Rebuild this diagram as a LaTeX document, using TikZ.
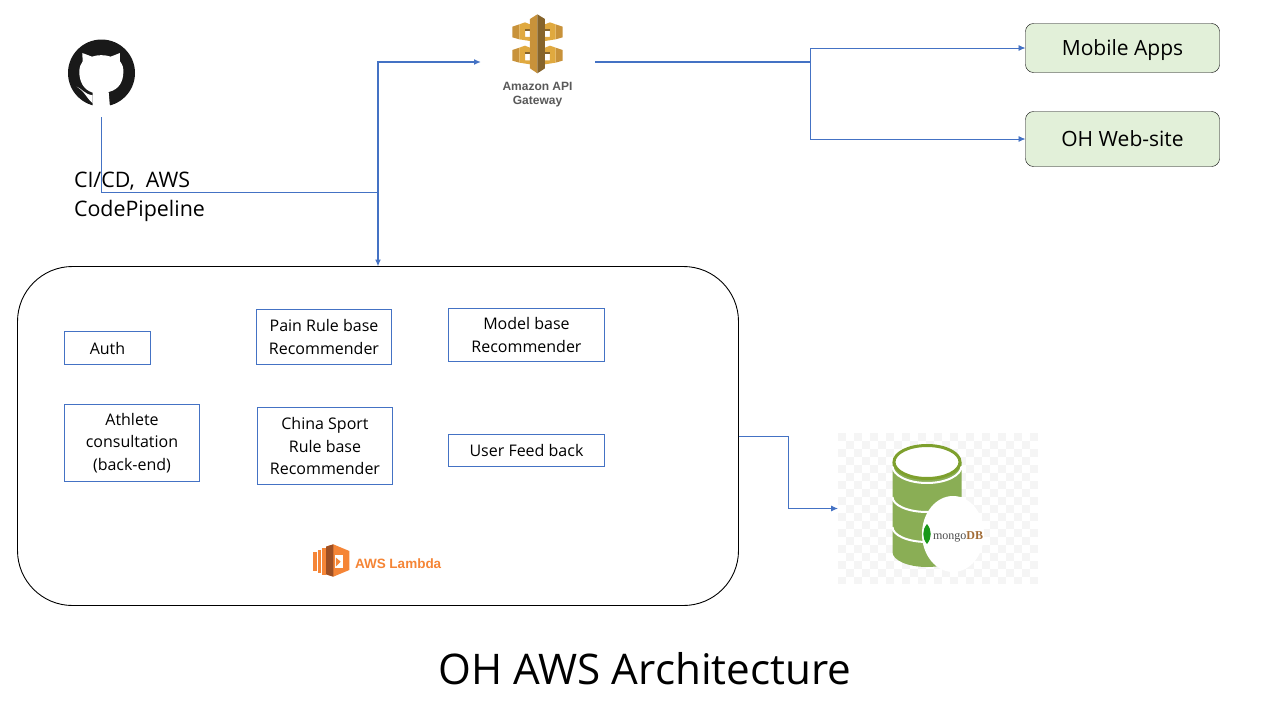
\documentclass[tikz,border=0pt]{standalone}
\usepackage{fontspec}
\setmainfont{Open Sans}
\newfontfamily\labelfont{Liberation Sans}
\newfontfamily\mongofont{Liberation Serif}
\usetikzlibrary{positioning,calc,arrows.meta}
\definecolor{linkblue}{HTML}{4472C4}
\definecolor{appgreen}{HTML}{E2F0D9}
\definecolor{gwlight}{HTML}{E0A93F}
\definecolor{gwmid}{HTML}{C8923A}
\definecolor{gwdark}{HTML}{86642B}
\definecolor{lambdaorange}{HTML}{F58536}
\definecolor{lambdadark}{HTML}{9D5025}
\definecolor{dbgreen}{HTML}{8AAE55}
\definecolor{dbrim}{HTML}{7EA02D}
\tikzset{
  fnbox/.style={draw=linkblue, rectangle, fill=white, align=center, inner sep=0pt, font=\fontsize{16}{22.5}\selectfont},
  appbox/.style={draw=black, rectangle, rounded corners=8pt, fill=appgreen, minimum width=194pt, inner sep=0pt, text height=19pt, text depth=5pt, font=\fontsize{21}{24}\selectfont},
  thinlink/.style={draw=linkblue, line width=0.9pt},
  thicklink/.style={draw=linkblue, line width=2pt},
  tip/.style={-{Latex[length=7pt,width=6pt]}}
}
\begin{document}
\begin{tikzpicture}[x=1pt, y=-1pt, outer sep=0pt]
    \useasboundingbox (0,0) rectangle (1280,720);

    % github mark
    \node [circle, fill=black!90, minimum size=67pt, inner sep=0pt] (github) at (101.5,73) {};
    \begin{scope}[shift={(40,20)}, x=0.3333pt, y=-0.3333pt]
        \fill [white] (158,262) -- (158,218) .. controls (128,208) and (118,182) .. (118,155)
            .. controls (118,142) and (122,132) .. (128,124) -- (127,99) -- (156,110)
            .. controls (172,104) and (196,104) .. (212,110) -- (240,99) -- (240,124)
            .. controls (248,134) and (251,144) .. (250,158) .. controls (249,185) and (238,208) .. (206,216)
            -- (210,262) -- cycle;
        \fill [white] (110,200) .. controls (125,205) and (132,222) .. (158,226) -- (158,250)
            .. controls (140,235) and (135,215) .. (110,200) -- cycle;
    \end{scope}
    \coordinate (gitout) at (101,117);

    \node [anchor=west, align=left, inner sep=0pt, font=\fontsize{21.4}{29}\selectfont] (cicd) at (74,197) {CI/CD,\ \ AWS\\CodePipeline};

    % api gateway
    \node [minimum width=114pt, inner sep=0pt] (apigw) at (538,62) {};
    \begin{scope}[shift={(470,5)}, x=0.3333pt, y=-0.3333pt]
        \foreach \dy in {0,70} {
            \foreach \sx/\ox in {1/0,-1/405} {
                \begin{scope}[shift={(\ox,\dy)}, xscale=\sx]
                    \fill [gwmid] (127,65) -- (148,58) -- (148,103) -- (127,97) -- cycle;
                    \fill [gwlight] (148,58) -- (165,52) -- (180,58) -- (180,72) -- (165,72) -- (165,96) -- (180,96) -- (180,108) -- (148,103) -- cycle;
                    \fill [gwdark] (165,72) -- (180,72) -- (180,78) -- (165,78) -- cycle;
                \end{scope}
            }
        }
        \fill [gwmid] (180,42) -- (202,28) -- (202,205) -- (180,190) -- cycle;
        \fill [gwdark] (202,28) -- (225,42) -- (225,190) -- (202,205) -- cycle;
    \end{scope}
    \node [align=center, text=black!65, font=\labelfont\bfseries\fontsize{12}{14.5}\selectfont] (apilabel) at (537.5,94.5) {Amazon API\\Gateway};

    % apps
    \node [appbox, minimum height=49pt] (mobile) at (1122.5,48) {Mobile Apps};
    \node [appbox, minimum height=55pt, below=39pt of mobile] (website) {OH Web-site};

    % lambda container
    \node [draw, rectangle, rounded corners=55pt, minimum width=721pt, minimum height=339pt, line width=0.9pt] (lambda) at (378,436) {};

    \node [fnbox, minimum width=86pt, minimum height=33pt] (auth) at (107.5,348) {Auth};
    \node [fnbox, minimum width=135pt, minimum height=77pt, below=40pt of auth.south west, anchor=north west] (athlete) {Athlete\\consultation\\(back-end)};
    \node [fnbox, minimum width=135pt, minimum height=55pt] (pain) at (324,337) {Pain Rule base\\Recommender};
    \node [fnbox, minimum width=135pt, minimum height=77pt] (china) at (325,446) {China Sport\\Rule base\\Recommender};
    \node [fnbox, minimum width=156pt, minimum height=53pt] (model) at (526.5,335) {Model base\\Recommender};
    \node [fnbox, minimum width=156pt, minimum height=32pt] (feedback) at (526.5,450.5) {User Feed back};

    % lambda mark
    \begin{scope}[shift={(300,535)}, x=0.3333pt, y=-0.3333pt]
        \fill [lambdaorange] (40,50) rectangle (50,108);
        \fill [lambdaorange] (53,44) rectangle (64,114);
        \fill [lambdaorange] (66,38) rectangle (78,120);
        \fill [lambdaorange] (78,35) -- (100,28) -- (148,48) -- (148,105) -- (100,125) -- (78,118) -- cycle;
        \fill [lambdadark] (78,35) -- (100,28) -- (100,125) -- (78,118) -- cycle;
        \fill [white] (105,60) -- (130,60) -- (130,100) -- (105,100) -- cycle;
        \fill [lambdaorange] (108,68) -- (122,80) -- (108,94) -- cycle;
    \end{scope}
    \node [anchor=west, inner sep=0pt, text=lambdaorange, font=\labelfont\bfseries\fontsize{13.5}{16}\selectfont] (lambdalabel) at (355,564) {AWS Lambda};

    % mongodb
    \node [minimum width=201pt, minimum height=151pt, inner sep=0pt] (mongo) at (938.5,508.5) {};
    \foreach \i in {0,...,24} {
        \foreach \j in {0,...,18} {
            \pgfmathparse{int(mod(\i+\j,2))}
            \ifnum\pgfmathresult=0
                \fill [black!4] ({838+8*\i},{433+8*\j}) rectangle ++(8,{min(8,151-8*\j)});
            \fi
        }
    }
    \fill [dbgreen] (892.5,462) -- (892.5,552) arc[start angle=180, end angle=360, x radius=34.5, y radius=-15]
        -- (961.5,462) -- cycle;
    \draw [white, line width=2pt] (892.5,466) arc[start angle=180, end angle=360, x radius=34.5, y radius=-17];
    \draw [white, line width=2pt] (892.5,497) arc[start angle=180, end angle=360, x radius=34.5, y radius=-15];
    \draw [white, line width=2pt] (892.5,527) arc[start angle=180, end angle=360, x radius=34.5, y radius=-15];
    \draw [dbrim, line width=3pt, fill=white] (927,462) ellipse [x radius=33, y radius=16.5];
    \fill [white] (953,534) ellipse [x radius=31, y radius=38];
    \fill [green!55!black!90] (927,524) .. controls (922,530) and (922,538) .. (927,544) .. controls (932,538) and (932,530) .. (927,524) -- cycle;
    \node [anchor=west, inner sep=0pt, font=\mongofont\fontsize{12}{15}\selectfont] (mongolabel) at (933,537) {\textcolor{black!70}{mongo}\textcolor{brown!85!black}{\bfseries DB}};

    \node [font=\fontsize{42.2}{50}\selectfont] (title) at (645,669) {OH AWS Architecture};

    % connectors
    \coordinate (hub) at (378,192);
    \coordinate (split) at (810,62);
    \draw [thinlink] (gitout) |- (hub);
    \draw [thicklink, tip] (hub) |- (apigw.west);
    \draw [thicklink, tip] (hub) -- (lambda.north);
    \draw [thicklink] (apigw.east) -- (split);
    \draw [thinlink, tip] (split) |- (mobile.west);
    \draw [thinlink, tip] (split) |- (website.west);
    \draw [thinlink, tip] (lambda.east) -| ($(lambda.east)!0.5!(mongo.west)$) |- (mongo.west);
\end{tikzpicture}
\end{document}
